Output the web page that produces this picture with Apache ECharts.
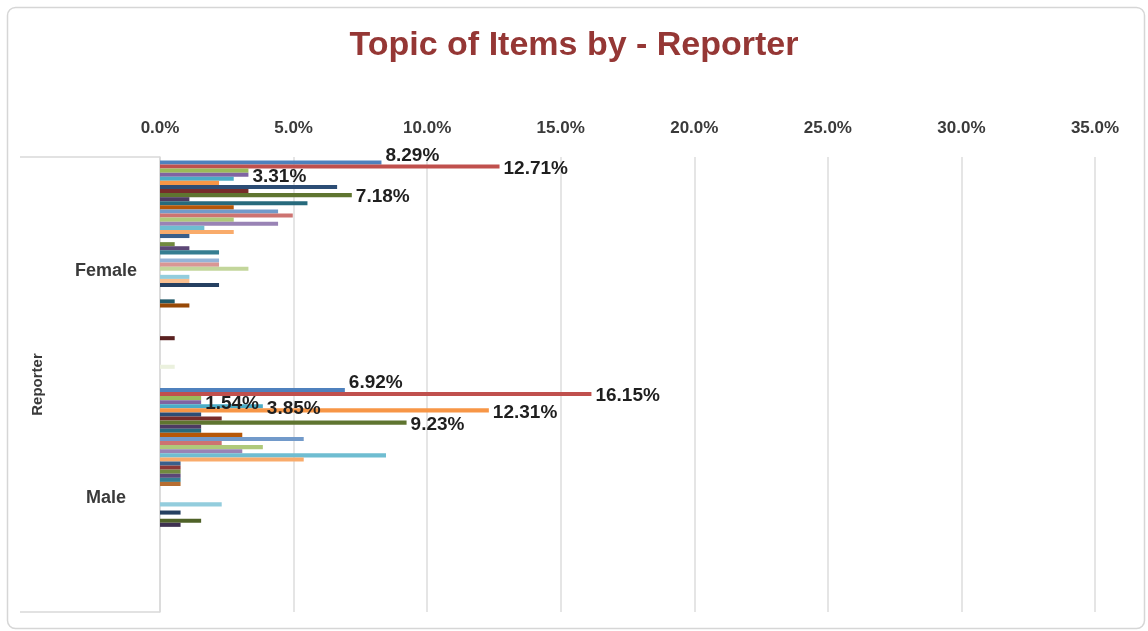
<!DOCTYPE html>
<html>
<head>
<meta charset="utf-8">
<title>Topic of Items by - Reporter</title>
<script src="https://cdn.jsdelivr.net/npm/echarts@6/dist/echarts.min.js"></script>
<style>
  html, body { margin: 0; padding: 0; background: #ffffff; }
  #chart { width: 1148px; height: 631px; }
</style>
</head>
<body>
<div id="chart"></div>
<script>
// Reporter groups shown on the category axis
const reporters = ['Female', 'Male'];
const outerLabel = ['Reporter'];

// Share of items per topic (%) for each reporter, topic order 1..54
const femalePct = [
  8.29, 12.71, 3.31, 3.31, 2.76, 2.21, 6.63, 3.31, 7.18, 1.10,
  5.52, 2.76, 4.42, 4.97, 2.76, 4.42, 1.66, 2.76, 1.10, 0,
  0.55, 1.10, 2.21, 0, 2.21, 2.21, 3.31, 0, 1.10, 1.10,
  2.21, 0, 0, 0, 0.55, 1.10, 0, 0, 0, 0,
  0, 0, 0, 0.55, 0, 0, 0, 0, 0, 0,
  0.55, 0, 0, 0
];
const malePct = [
  6.92, 16.15, 1.54, 1.54, 3.85, 12.31, 1.54, 2.31, 9.23, 1.54,
  1.54, 3.08, 5.38, 2.31, 3.85, 3.08, 8.46, 5.38, 0.77, 0.77,
  0.77, 0.77, 0.77, 0.77, 0, 0, 0, 0, 2.31, 0,
  0.77, 0, 1.54, 0.77, 0, 0, 0, 0, 0, 0,
  0, 0, 0, 0, 0, 0, 0, 0, 0, 0,
  0, 0, 0, 0
];

// Topics (1-based) whose value is printed next to the bar
const femaleLabelled = [1, 2, 4, 9];
const maleLabelled = [1, 2, 4, 5, 6, 9];

// Value axis ticks
const tickMin = 0;
const tickMax = 35;
const tickStep = 5;

const topics = femalePct.map((_, i) => 'Topic ' + (i + 1));

const palette = [
  '#4F81BD', '#C0504D', '#9BBB59', '#8064A2', '#4BACC6', '#F79646',
  '#2C4D75', '#772C2A', '#5F7530', '#4D3B62', '#276A7C', '#B65708',
  '#729ACA', '#CD7371', '#AFC97A', '#9983B5', '#6FBDD1', '#F9AB6B',
  '#3A5F8B', '#8C3836', '#71893F', '#5C4776', '#357D91', '#B66D31',
  '#95B3D7', '#D99694', '#C3D69B', '#B3A2C7', '#93CDDD', '#FAC090',
  '#254061', '#632523', '#4F6228', '#3F3151', '#215968', '#974806',
  '#B9CDE5', '#E6B9B8', '#D7E4BD', '#CCC1DA', '#B7DEE8', '#FCD5B5',
  '#1F3A5F', '#5A2120', '#465727', '#38294A', '#1D4E5C', '#834006',
  '#DCE6F2', '#F2DCDB', '#EBF1DE', '#E6E0EC', '#DBEEF4', '#FDEADA'
];

const FONT = 'Liberation Sans, Arial, sans-serif';

function point(value, labelled, topicNo) {
  return {
    value: value,
    label: {
      show: labelled,
      offset: topicNo === 1 ? [0, -7] : [0, 2]
    }
  };
}

const series = topics.map((name, i) => ({
  name: name,
  type: 'bar',
  yAxisIndex: 0,
  barGap: '0%',
  barCategoryGap: '3%',
  itemStyle: { color: palette[i % palette.length] },
  label: {
    position: 'right',
    distance: 4,
    fontFamily: FONT,
    fontSize: 19,
    fontWeight: 'bold',
    color: '#1f1f1f',
    formatter: p => p.value.toFixed(2) + '%'
  },
  data: [
    point(femalePct[i], femaleLabelled.includes(i + 1), i + 1),
    point(malePct[i], maleLabelled.includes(i + 1), i + 1)
  ]
}));

const chart = echarts.init(document.getElementById('chart'), null, { renderer: 'canvas' });

chart.setOption({
  animation: false,
  backgroundColor: '#ffffff',
  title: {
    text: 'Topic of Items by - Reporter',
    left: 'center',
    top: 24,
    textStyle: {
      fontFamily: FONT,
      fontSize: 34,
      fontWeight: 'bold',
      color: '#953735'
    }
  },
  graphic: [{
    type: 'rect',
    left: 5,
    top: 5,
    shape: { width: 1137, height: 621, r: 8 },
    style: { fill: 'none', stroke: '#d6d6d6', lineWidth: 1.5 },
    z: -1
  }],
  grid: { left: 160, right: 53, top: 157, bottom: 19, containLabel: false },
  xAxis: {
    type: 'value',
    position: 'top',
    min: tickMin,
    max: tickMax,
    interval: tickStep,
    axisLine: { show: false },
    axisTick: { show: false },
    splitLine: { show: true, lineStyle: { color: '#dcdcdc', width: 1.5 } },
    axisLabel: {
      margin: 20,
      fontFamily: FONT,
      fontSize: 17,
      fontWeight: 'bold',
      color: '#3a3a3a',
      formatter: v => v.toFixed(1) + '%'
    }
  },
  yAxis: [{
    type: 'category',
    data: reporters,
    inverse: true,
    axisLine: { show: true, lineStyle: { color: '#d9d9d9', width: 1.5 } },
    axisTick: { show: false },
    axisLabel: {
      margin: 54,
      align: 'center',
      fontFamily: FONT,
      fontSize: 18,
      fontWeight: 'bold',
      color: '#3a3a3a'
    }
  }, {
    type: 'category',
    data: outerLabel,
    position: 'left',
    axisLine: { show: false },
    axisTick: { show: true, length: 140, lineStyle: { color: '#d9d9d9', width: 1.5 } },
    axisLabel: {
      rotate: 90,
      margin: 115,
      fontFamily: FONT,
      fontSize: 15,
      fontWeight: 'bold',
      color: '#3a3a3a'
    },
    splitLine: { show: false }
  }],
  series: series
});
</script>
</body>
</html>
